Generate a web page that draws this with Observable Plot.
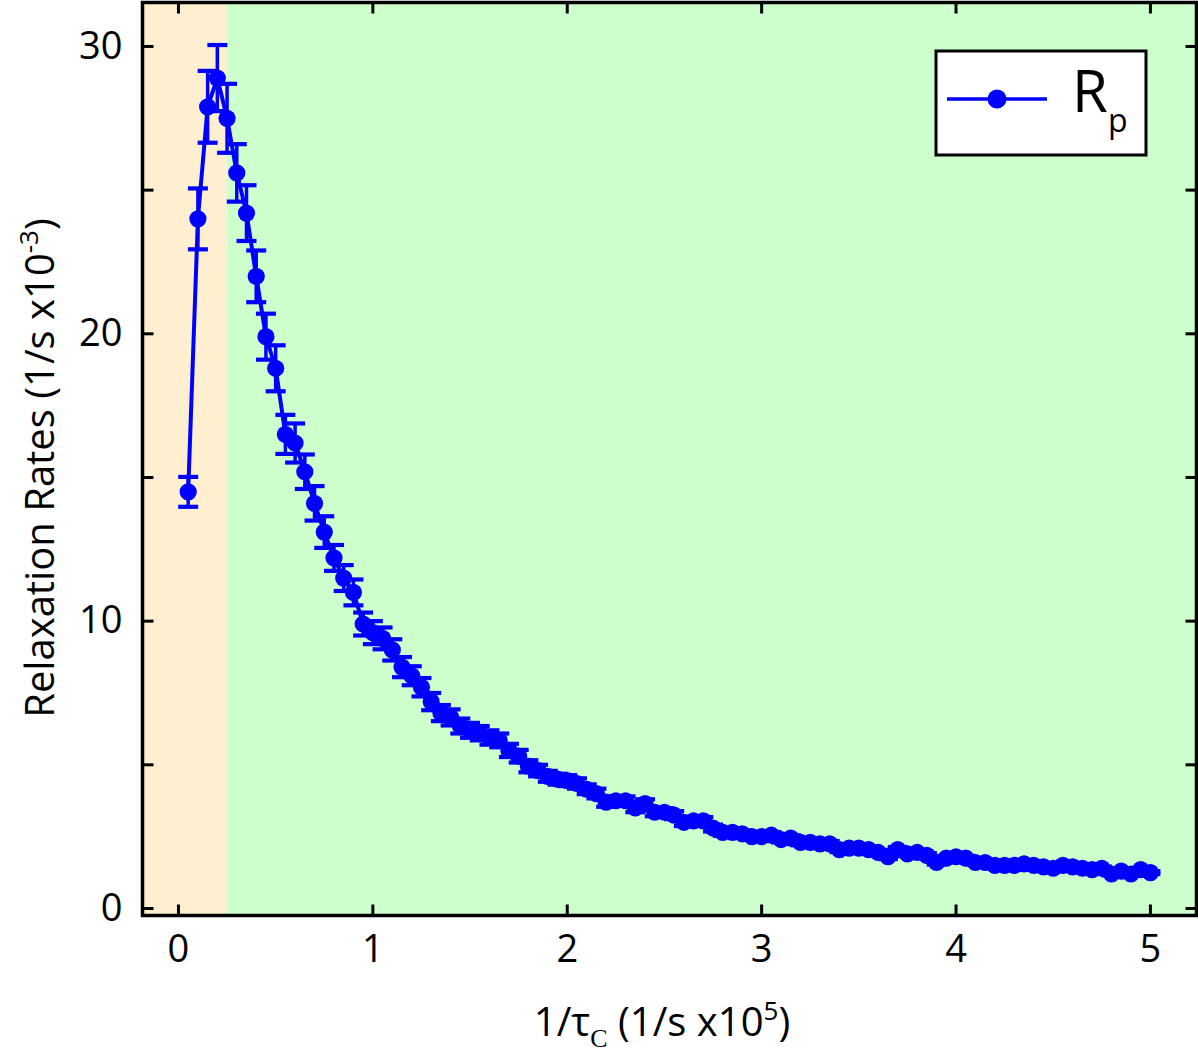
<!DOCTYPE html>
<html>
<head>
<meta charset="utf-8">
<script src="https://cdn.jsdelivr.net/npm/d3@7"></script>
<script src="https://cdn.jsdelivr.net/npm/@observablehq/plot@0.6"></script>
<style>
  html, body { margin: 0; padding: 0; background: white; }
  #chart { width: 1198px; height: 1062px; }
</style>
</head>
<body>
<div id="chart"></div>
<script>
// ---- data ----
const xValues = [
  0.05, 0.10, 0.15, 0.20, 0.25, 0.30, 0.35, 0.40, 0.45, 0.50,
  0.55, 0.60, 0.65, 0.70, 0.75, 0.80, 0.85, 0.90, 0.95, 1.00,
  1.05, 1.10, 1.15, 1.20, 1.25, 1.30, 1.35, 1.40, 1.45, 1.50,
  1.55, 1.60, 1.65, 1.70, 1.75, 1.80, 1.85, 1.90, 1.95, 2.00,
  2.05, 2.10, 2.15, 2.20, 2.25, 2.30, 2.35, 2.40, 2.45, 2.50,
  2.55, 2.60, 2.65, 2.70, 2.75, 2.80, 2.85, 2.90, 2.95, 3.00,
  3.05, 3.10, 3.15, 3.20, 3.25, 3.30, 3.35, 3.40, 3.45, 3.50,
  3.55, 3.60, 3.65, 3.70, 3.75, 3.80, 3.85, 3.90, 3.95, 4.00,
  4.05, 4.10, 4.15, 4.20, 4.25, 4.30, 4.35, 4.40, 4.45, 4.50,
  4.55, 4.60, 4.65, 4.70, 4.75, 4.80, 4.85, 4.90, 4.95, 5.00
];
const rpValues = [
  14.5, 24.0, 27.9, 28.9, 27.5, 25.6, 24.2, 22.0, 19.9, 18.8,
  16.5, 16.2, 15.2, 14.1, 13.1, 12.2, 11.5, 11.0, 9.9, 9.6,
  9.4, 9.0, 8.4, 8.1, 7.7, 7.2, 6.8, 6.65, 6.35, 6.2,
  6.1, 5.95, 5.85, 5.5, 5.3, 4.95, 4.8, 4.6, 4.5, 4.45,
  4.35, 4.15, 4.0, 3.7, 3.75, 3.75, 3.5, 3.65, 3.35, 3.35,
  3.25, 3.0, 3.05, 3.05, 2.8, 2.65, 2.65, 2.6, 2.5, 2.5,
  2.55, 2.4, 2.45, 2.3, 2.3, 2.25, 2.25, 2.05, 2.1, 2.1,
  2.05, 1.95, 1.8, 2.05, 1.9, 1.95, 1.85, 1.6, 1.75, 1.8,
  1.75, 1.6, 1.6, 1.5, 1.5, 1.5, 1.55, 1.5, 1.45, 1.4,
  1.5, 1.45, 1.4, 1.35, 1.4, 1.2, 1.3, 1.2, 1.35, 1.25
];
const rpErrors = [
  0.52, 1.06, 1.25, 1.15, 1.2, 1.0, 0.97, 0.9, 0.8, 0.8,
  0.68, 0.68, 0.6, 0.6, 0.55, 0.45, 0.45, 0.45, 0.4, 0.4,
  0.38, 0.37, 0.35, 0.33, 0.32, 0.3, 0.28, 0.28, 0.26, 0.26,
  0.25, 0.25, 0.24, 0.23, 0.22, 0.21, 0.2, 0.19, 0.19, 0.19,
  0.18, 0.17, 0.17, 0.16, 0.16, 0.15, 0.15, 0.15, 0.14, 0.14,
  0.14, 0.13, 0.13, 0.13, 0.12, 0.12, 0.12, 0.11, 0.11, 0.11,
  0.11, 0.1, 0.1, 0.1, 0.1, 0.1, 0.1, 0.09, 0.09, 0.09,
  0.09, 0.09, 0.08, 0.09, 0.08, 0.08, 0.08, 0.07, 0.08, 0.08,
  0.08, 0.07, 0.07, 0.07, 0.07, 0.07, 0.07, 0.07, 0.06, 0.06,
  0.07, 0.06, 0.06, 0.06, 0.06, 0.05, 0.06, 0.05, 0.06, 0.05
];
const xTicks = [0, 1, 2, 3, 4, 5];
const yTickLabels = [0, 10, 20, 30];
const yTicksAll = [0, 5, 10, 15, 20, 25, 30];
const regionStart = [-0.185, 0.25];
const regionEnd = [0.25, 5.237];
const regionFill = ["#fdefd0", "#ccffcc"];
const xDomain = [-0.185, 5.237];
const yDomain = [-0.244, 31.53];
const seriesName = "R";
const seriesSub = "p";

// ---- build tables ----
const data = xValues.map((x, i) => ({x, y: rpValues[i], lo: rpValues[i] - rpErrors[i], hi: rpValues[i] + rpErrors[i]}));
const regions = regionStart.map((s, i) => ({start: s, end: regionEnd[i], fill: regionFill[i]}));

const BLUE = "#0000ff";
const FONT = "'Open Sans', 'Noto Sans', sans-serif";

const capSymbol = {draw(ctx) { ctx.moveTo(-10, 0); ctx.lineTo(10, 0); }};
const tickUp = {draw(ctx) { ctx.moveTo(0, 0); ctx.lineTo(0, -11); }};
const tickDown = {draw(ctx) { ctx.moveTo(0, 0); ctx.lineTo(0, 11); }};
const tickRight = {draw(ctx) { ctx.moveTo(0, 0); ctx.lineTo(11, 0); }};
const tickLeft = {draw(ctx) { ctx.moveTo(0, 0); ctx.lineTo(-11, 0); }};

const plot = Plot.plot({
  width: 1198,
  height: 1062,
  marginLeft: 142,
  marginRight: 2,
  marginTop: 2,
  marginBottom: 147,
  x: {domain: xDomain, label: null},
  y: {domain: yDomain, label: null},
  style: {fontFamily: FONT, fontSize: "38px", background: "white", color: "black"},
  marks: [
    Plot.rect(regions, {x1: "start", x2: "end", fill: "fill"}),
    Plot.axisX({ticks: xTicks, tickSize: 0, tickPadding: 20, fontSize: 38, label: null, tickFormat: d3.format("d")}),
    Plot.axisY({ticks: yTickLabels, tickSize: 0, tickPadding: 20, fontSize: 38, label: null, tickFormat: d3.format("d")}),
    Plot.ruleX(data, {x: "x", y1: "lo", y2: "hi", stroke: BLUE, strokeWidth: 3.5}),
    Plot.dot(data, {x: "x", y: "lo", symbol: capSymbol, stroke: BLUE, strokeWidth: 4.2, fill: "none"}),
    Plot.dot(data, {x: "x", y: "hi", symbol: capSymbol, stroke: BLUE, strokeWidth: 4.2, fill: "none"}),
    Plot.line(data, {x: "x", y: "y", stroke: BLUE, strokeWidth: 4}),
    Plot.dot(data, {x: "x", y: "y", r: 8.6, fill: BLUE, stroke: "none"}),
    Plot.dot(xTicks, {x: d => d, frameAnchor: "bottom", symbol: tickUp, stroke: "black", strokeWidth: 3, fill: "none"}),
    Plot.dot(xTicks, {x: d => d, frameAnchor: "top", symbol: tickDown, stroke: "black", strokeWidth: 3, fill: "none"}),
    Plot.dot(yTicksAll, {y: d => d, frameAnchor: "left", symbol: tickRight, stroke: "black", strokeWidth: 3, fill: "none"}),
    Plot.dot(yTicksAll, {y: d => d, frameAnchor: "right", symbol: tickLeft, stroke: "black", strokeWidth: 3, fill: "none"}),
    Plot.frame({stroke: "black", strokeWidth: 3.5})
  ]
});

const svg = d3.select(plot);

// x axis title
const xt = svg.append("text")
  .attr("x", 662).attr("y", 1036)
  .attr("text-anchor", "middle")
  .style("font-family", FONT).style("font-size", "40px").attr("fill", "black");
xt.append("tspan").text("1/τ");
xt.append("tspan").attr("dy", 11).style("font-size", "26px").style("font-family", "'Liberation Serif', serif").text("C");
xt.append("tspan").attr("dy", -11).text(" (1/s x10");
xt.append("tspan").attr("dy", -16).style("font-size", "26px").text("5");
xt.append("tspan").attr("dy", 16).text(")");

// y axis title
const yt = svg.append("text")
  .attr("transform", "translate(54,468) rotate(-90)")
  .attr("text-anchor", "middle")
  .style("font-family", FONT).style("font-size", "40px").attr("fill", "black");
yt.append("tspan").text("Relaxation Rates (1/s x10");
yt.append("tspan").attr("dy", -16).style("font-size", "26px").text("-3");
yt.append("tspan").attr("dy", 16).text(")");

// legend
const lg = svg.append("g");
lg.append("rect").attr("x", 936).attr("y", 51).attr("width", 210).attr("height", 104)
  .attr("fill", "white").attr("stroke", "black").attr("stroke-width", 3);
lg.append("line").attr("x1", 947).attr("x2", 1047).attr("y1", 99).attr("y2", 99)
  .attr("stroke", BLUE).attr("stroke-width", 3.5);
lg.append("circle").attr("cx", 997).attr("cy", 99).attr("r", 9.5).attr("fill", BLUE);
const lt = lg.append("text").attr("x", 1072).attr("y", 112)
  .attr("text-anchor", "start")
  .style("font-family", FONT).style("font-size", "58px").attr("fill", "black");
lt.append("tspan").text(seriesName);
lt.append("tspan").attr("x", 1108).attr("y", 132).style("font-size", "32px").text(seriesSub);

document.getElementById("chart").appendChild(plot);
</script>
</body>
</html>
